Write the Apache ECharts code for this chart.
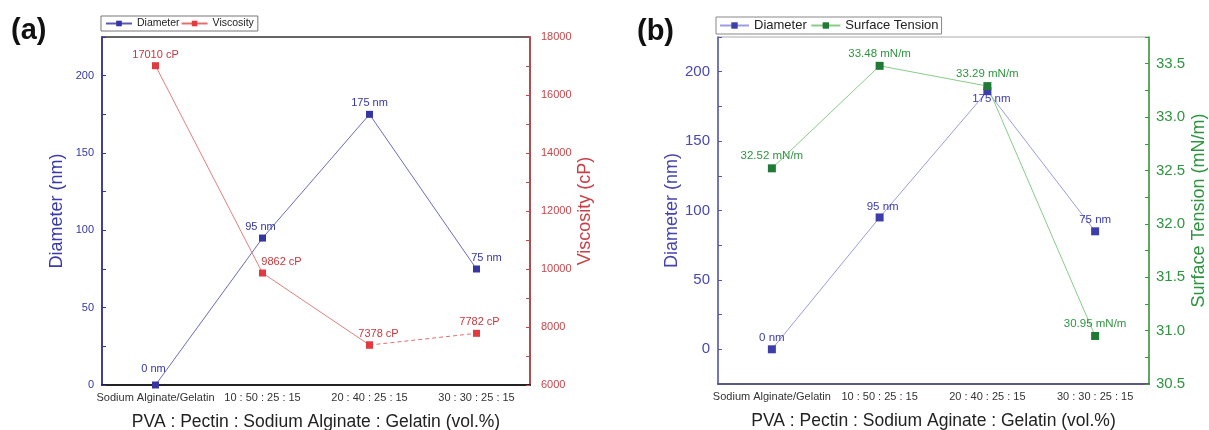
<!DOCTYPE html>
<html>
<head>
<meta charset="utf-8">
<script src="https://cdn.jsdelivr.net/npm/echarts@6/dist/echarts.min.js"></script>
<style>
  html, body { margin: 0; padding: 0; background: #fff; }
  #chart { width: 1209px; height: 430px; }
</style>
</head>
<body>
<div id="chart"></div>
<script>
// categories shared by both panels
const categories = ['Sodium Alginate/Gelatin', '10 : 50 : 25 : 15', '20 : 40 : 25 : 15', '30 : 30 : 25 : 15'];

// panel (a)
const diameterA = [0, 95, 175, 75];
const viscosity = [17010, 9862, 7378, 7782];

// panel (b): marker positions as drawn, and the numbers printed next to them
const diameterB = [0, 95, 186, 85];
const diameterTextB = [0, 95, 175, 75];
const surfaceTension = [32.52, 33.48, 33.29, 30.95];

// label nudges (style only)
const diaOffsetA = [[-2, -5], [-2, 0], [0, 0], [10, 0]];
const viscOffset = [[0, 0], [19, 0], [9, 0], [3, 0]];
const diaOffsetB = [[0, 0], [3, 0], [4, 8], [0, 0]];

const FONT = 'Liberation Sans, Arial, sans-serif';
const BLUE_A = '#3636a2', RED = '#c8383e', RED_M = '#e23a40';
const BLUE_B = '#3d3dab', GREEN = '#2f9440', GREEN_M = '#1f7a35';

const every = (step) => (v) => {
  const k = v / step;
  return Math.abs(k - Math.round(k)) < 1e-6 ? v : '';
};

let myChart = echarts.init(document.getElementById('chart'));

const option = {
  backgroundColor: '#fff',
  animation: false,
  textStyle: { fontFamily: FONT },
  title: [
    { text: '(a)', left: 11, top: 16, padding: 0,
      textStyle: { fontSize: 29, fontWeight: 'bold', color: '#111', fontFamily: FONT } },
    { text: '(b)', left: 637, top: 17, padding: 0,
      textStyle: { fontSize: 29, fontWeight: 'bold', color: '#111', fontFamily: FONT } }
  ],
  legend: [
    { data: ['Diameter', 'Viscosity'], left: 101, top: 16, padding: [2, 4],
      itemWidth: 26, itemHeight: 7, itemGap: 1,
      borderColor: '#777', borderWidth: 1, backgroundColor: '#fff',
      textStyle: { fontSize: 10.5, color: '#222', fontFamily: FONT } },
    { data: ['Diameter ', 'Surface Tension'], left: 716, top: 17, padding: [2, 3],
      itemWidth: 29, itemHeight: 8, itemGap: 0,
      borderColor: '#888', borderWidth: 1, backgroundColor: '#fff',
      textStyle: { fontSize: 13, color: '#222', fontFamily: FONT } }
  ],
  grid: [
    { left: 102, top: 37, width: 428, height: 348, outerBoundsMode: 'none', containLabel: false,
      show: true, borderColor: '#333', borderWidth: 1.5, backgroundColor: 'transparent' },
    { left: 718, top: 37, width: 431, height: 347, outerBoundsMode: 'none', containLabel: false,
      show: true, borderColor: '#aaa', borderWidth: 1, backgroundColor: 'transparent' }
  ],
  xAxis: [
    { gridIndex: 0, type: 'category', data: categories, boundaryGap: true,
      axisLine: { onZero: false, lineStyle: { color: '#222', width: 2 } },
      axisTick: { alignWithLabel: true, inside: true, length: 5, lineStyle: { color: '#333' } },
      axisLabel: { interval: 0, fontSize: 11, color: '#333', margin: 7 },
      name: 'PVA : Pectin : Sodium Alginate : Gelatin (vol.%)', nameLocation: 'middle', nameGap: 28,
      nameTextStyle: { fontSize: 17.5, color: '#222' } },
    { gridIndex: 1, type: 'category', data: categories, boundaryGap: true, position: 'bottom',
      axisLine: { onZero: false, lineStyle: { color: '#5a5a80', width: 2 } },
      axisTick: { alignWithLabel: true, inside: true, length: 5, lineStyle: { color: '#444' } },
      axisLabel: { interval: 0, fontSize: 11, color: '#333', margin: 7 },
      name: 'PVA : Pectin : Sodium Aginate : Gelatin (vol.%)', nameLocation: 'middle', nameGap: 28,
      nameTextStyle: { fontSize: 17.5, color: '#222' } },
    { gridIndex: 1, type: 'category', data: categories, boundaryGap: true, position: 'bottom',
      axisLine: { show: false, onZero: false },
      axisTick: { inside: true, length: 3, lineStyle: { color: '#444' } },
      axisLabel: { show: false } }
  ],
  yAxis: [
    { gridIndex: 0, type: 'value', min: 0, max: 225, interval: 25, splitLine: { show: false },
      axisLine: { show: true, lineStyle: { color: BLUE_A, width: 1.5 } },
      axisTick: { show: true, inside: true, length: 4 },
      axisLabel: { formatter: every(50), fontSize: 11, color: BLUE_A, margin: 8 },
      name: 'Diameter (nm)', nameLocation: 'middle', nameGap: 36,
      nameTextStyle: { fontSize: 18, color: '#3a3aaa' } },
    { gridIndex: 0, type: 'value', position: 'right', min: 6000, max: 18000, interval: 1000, splitLine: { show: false },
      axisLine: { show: true, lineStyle: { color: '#c8464a', width: 1.5 } },
      axisTick: { show: true, inside: true, length: 4 },
      axisLabel: { formatter: every(2000), fontSize: 11, color: '#c8464a', margin: 11 },
      name: 'Viscosity (cP)', nameLocation: 'middle', nameGap: 46,
      nameTextStyle: { fontSize: 18, color: '#c84048' } },
    { gridIndex: 1, type: 'value', min: -25, max: 225, interval: 25, splitLine: { show: false },
      axisLine: { show: true, lineStyle: { color: '#5555b0', width: 1.5 } },
      axisTick: { show: true, inside: true, length: 4 },
      axisLabel: { formatter: every(50), fontSize: 15, color: '#4848b2', margin: 8 },
      name: 'Diameter (nm)', nameLocation: 'middle', nameGap: 37,
      nameTextStyle: { fontSize: 18, color: '#4545b0' } },
    { gridIndex: 1, type: 'value', position: 'right', min: 30.5, max: 33.75, interval: 0.25, splitLine: { show: false },
      axisLine: { show: true, lineStyle: { color: '#3a9a3a', width: 1.5 } },
      axisTick: { show: true, inside: true, length: 4 },
      axisLabel: { formatter: (v) => every(0.5)(v) === '' ? '' : v.toFixed(1), fontSize: 15, color: GREEN, margin: 7 },
      name: 'Surface Tension (mN/m)', nameLocation: 'middle', nameGap: 41,
      nameTextStyle: { fontSize: 18, color: GREEN } }
  ],
  series: [
    { name: 'Diameter', type: 'line', xAxisIndex: 0, yAxisIndex: 0,
      symbol: 'rect', symbolSize: 7,
      lineStyle: { color: '#5a5ab4', width: 0.9 }, itemStyle: { color: BLUE_A },
      label: { show: true, position: 'top', distance: 2, fontSize: 11, color: BLUE_A, formatter: (p) => p.value + ' nm' },
      data: diameterA.map((v, i) => ({ value: v, label: { offset: diaOffsetA[i] } })) },
    { name: 'Viscosity', type: 'line', xAxisIndex: 0, yAxisIndex: 1,
      symbol: 'rect', symbolSize: 7,
      lineStyle: { color: '#e07070', width: 0.9 }, itemStyle: { color: RED_M },
      label: { show: true, position: 'top', distance: 2, fontSize: 11, color: RED, formatter: (p) => p.value + ' cP' },
      data: viscosity.map((v, i) => (i <= 2 ? { value: v, label: { offset: viscOffset[i] } } : '-')) },
    { name: 'Viscosity tail', type: 'line', xAxisIndex: 0, yAxisIndex: 1,
      symbol: 'rect', symbolSize: 7,
      lineStyle: { color: '#e07070', width: 1, type: [4, 3] }, itemStyle: { color: RED_M },
      label: { show: true, position: 'top', distance: 2, fontSize: 11, color: RED, formatter: (p) => p.value + ' cP' },
      data: viscosity.map((v, i) => (i >= 2 ? { value: v, label: { show: i === 3, offset: viscOffset[i] } } : '-')) },
    { name: 'Diameter ', type: 'line', xAxisIndex: 1, yAxisIndex: 2,
      symbol: 'rect', symbolSize: 8,
      lineStyle: { color: '#9c9ce0', width: 1 }, itemStyle: { color: BLUE_B },
      label: { show: true, position: 'top', distance: 1, fontSize: 11.5, color: BLUE_B,
        formatter: (p) => diameterTextB[p.dataIndex] + ' nm' },
      data: diameterB.map((v, i) => ({ value: v,
        label: i === 2 ? { position: 'inside', offset: diaOffsetB[i] } : { offset: diaOffsetB[i] } })) },
    { name: 'Surface Tension', type: 'line', xAxisIndex: 1, yAxisIndex: 3,
      symbol: 'rect', symbolSize: 8,
      lineStyle: { color: '#88cc88', width: 1 }, itemStyle: { color: GREEN_M },
      label: { show: true, position: 'top', distance: 2, fontSize: 11.5, color: GREEN,
        formatter: (p) => p.value.toFixed(2) + ' mN/m' },
      data: surfaceTension }
  ]
};

myChart.setOption(option);
</script>
</body>
</html>
